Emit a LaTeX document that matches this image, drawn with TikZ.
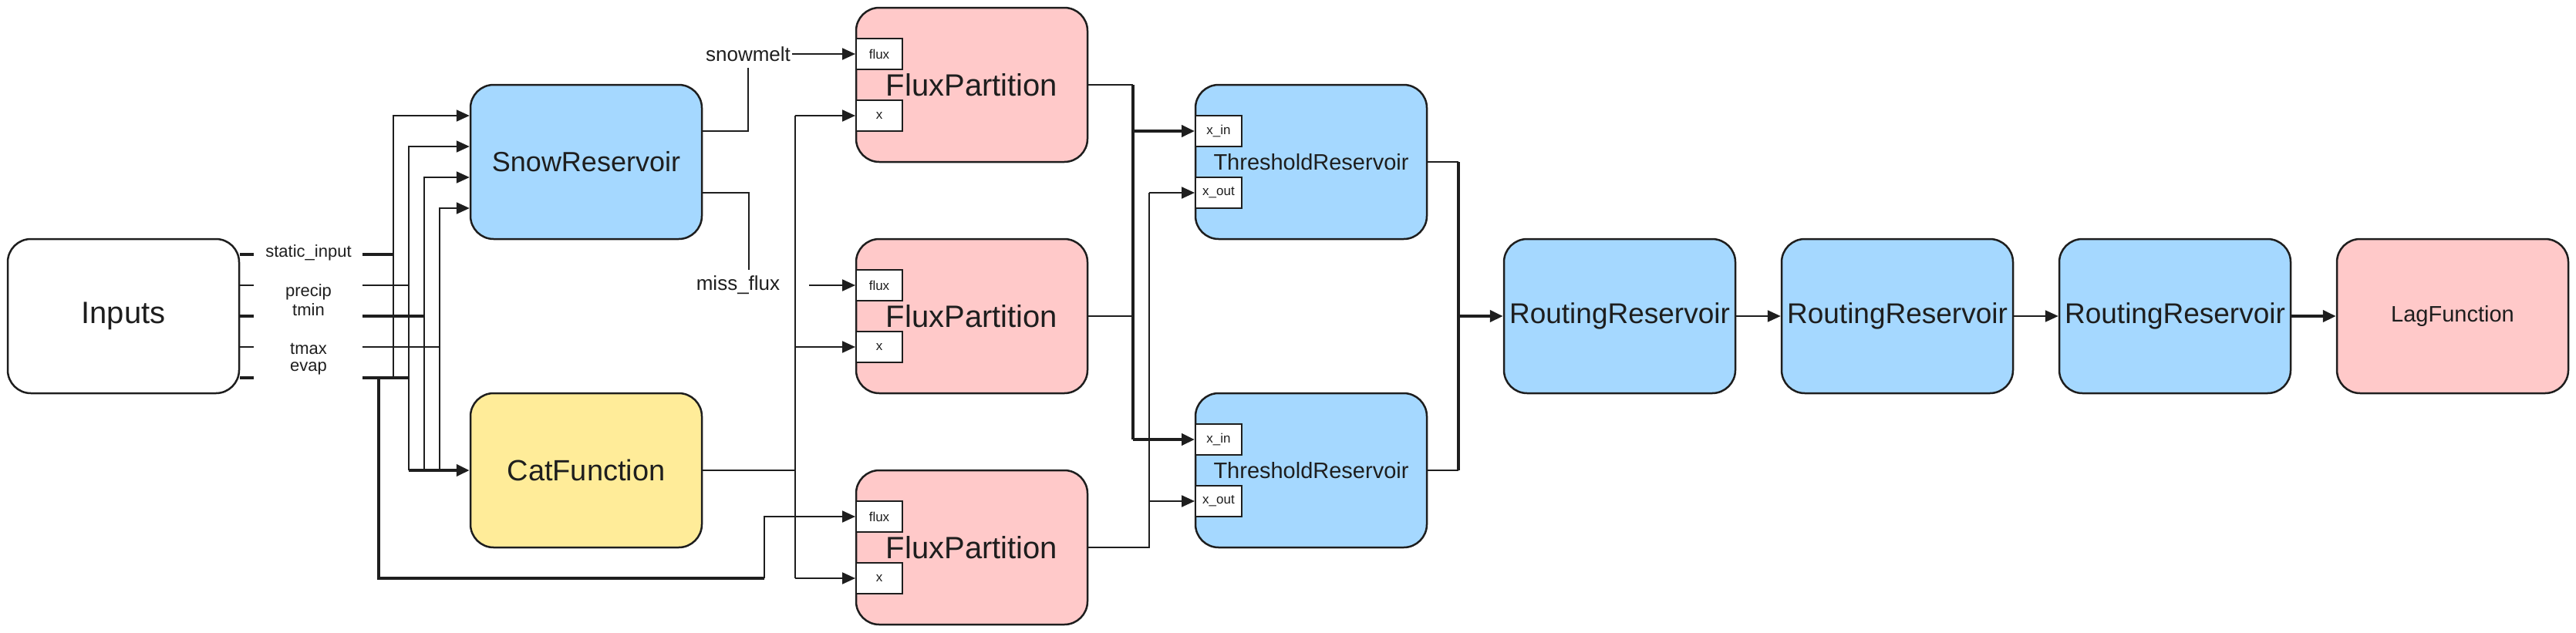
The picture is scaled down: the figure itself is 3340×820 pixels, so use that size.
\documentclass[tikz,border=0pt]{standalone}
\usepackage{fontspec}
\setmainfont{Liberation Sans}
\usetikzlibrary{arrows.meta}
\definecolor{ink}{HTML}{1E1E1E}
\definecolor{bblue}{HTML}{A5D8FF}
\definecolor{bpink}{HTML}{FFC9C9}
\definecolor{byel}{HTML}{FFEC99}
\newcommand{\fsz}[1]{\fontsize{#1}{#1}\selectfont}
\begin{document}
\begin{tikzpicture}[x=1pt,y=-1pt,
  box/.style={draw=ink, line width=2.5pt, rounded corners=30pt, minimum width=300pt, minimum height=200pt, inner sep=0pt, text=ink, font=\fsz{36}},
  midbox/.style={box, font=\fsz{29}},
  port/.style={draw=ink, fill=white, line width=2pt, minimum width=60pt, minimum height=40pt, inner sep=0pt, text=ink, font=\fsz{17}},
  lbl/.style={text=ink, inner sep=2pt, font=\fsz{22}},
  biglbl/.style={text=ink, inner sep=2pt, font=\fsz{26}},
  ln/.style={draw=ink, line width=2.2pt},
  thk/.style={draw=ink, line width=4.5pt},
  mthk/.style={draw=ink, line width=3.4pt},
  stub/.style={draw=ink, line width=4pt},
  arr/.style={-{Triangle[length=17pt,width=15pt]}}
]
\useasboundingbox (0,0) rectangle (3340,820);

% main boxes
\node[box, fill=white, font=\fsz{40}] (inp) at (160,410) {Inputs};
\node[box, fill=bblue] (snow) at (760,210) {SnowReservoir};
\node[box, fill=byel, font=\fsz{38}] (cat) at (760,610) {CatFunction};
\node[box, fill=bpink, font=\fsz{40}] (fp1) at (1260,110) {FluxPartition};
\node[box, fill=bpink, font=\fsz{40}] (fp2) at (1260,410) {FluxPartition};
\node[box, fill=bpink, font=\fsz{40}] (fp3) at (1260,710) {FluxPartition};
\node[midbox, fill=bblue] (t1) at (1700,210) {ThresholdReservoir};
\node[midbox, fill=bblue] (t2) at (1700,610) {ThresholdReservoir};
\node[box, fill=bblue, font=\fsz{37}] (r1) at (2100,410) {RoutingReservoir};
\node[box, fill=bblue, font=\fsz{37}] (r2) at (2460,410) {RoutingReservoir};
\node[box, fill=bblue, font=\fsz{37}] (r3) at (2820,410) {RoutingReservoir};
\node[midbox, fill=bpink] (lag) at (3180,410) {LagFunction};

% ports
\node[port] (fp1f) at (1140,70) {flux};
\node[port] (fp1x) at (1140,150) {x};
\node[port] (fp2f) at (1140,370) {flux};
\node[port] (fp2x) at (1140,450) {x};
\node[port] (fp3f) at (1140,670) {flux};
\node[port] (fp3x) at (1140,750) {x};
\node[port] (t1i) at (1580,170) {x\_in};
\node[port] (t1o) at (1580,250) {x\_out};
\node[port] (t2i) at (1580,570) {x\_in};
\node[port] (t2o) at (1580,650) {x\_out};

% input labels
\node[lbl] (lsi) at (400,328) {static\_input};
\node[lbl] (lpr) at (400,379) {precip};
\node[lbl] (ltn) at (400,402) {tmin};
\node[lbl] (ltx) at (400,452) {tmax};
\node[lbl] (lev) at (400,478) {evap};

% input stubs
\draw[stub] ([yshift=80pt]inp.east) -- ++(18,0);
\draw[ln] ([yshift=40pt]inp.east) -- ++(18,0);
\draw[stub] (inp.east) -- ++(18,0);
\draw[ln] ([yshift=-40pt]inp.east) -- ++(18,0);
\draw[stub] ([yshift=-80pt]inp.east) -- ++(18,0);

% input wires
\coordinate (osi) at (470,330);
\coordinate (opr) at (470,370);
\coordinate (otn) at (470,410);
\coordinate (otx) at (470,450);
\coordinate (oev) at (470,490);
\draw[stub] (osi) -- (510,330);
\draw[ln] (opr) -- (530,370);
\draw[stub] (otn) -- (550,410);
\draw[ln] (otx) -- (570,450);
\draw[stub] (oev) -- (530,490);
\draw[ln,arr] (510,490) |- ([yshift=60pt]snow.west);
\draw[ln,arr] (530,610) |- ([yshift=20pt]snow.west);
\draw[ln,arr] (550,610) |- ([yshift=-20pt]snow.west);
\draw[ln,arr] (570,610) |- ([yshift=-60pt]snow.west);
\draw[thk,arr] (530,610) -- (cat.west);
\draw[mthk] (491,490) |- (991,750);
\draw[ln,arr] (991,750) |- (fp3f.west);

% snow outputs
\node[biglbl] (smelt) at (970,70) {snowmelt};
\node[biglbl] (miss) at (957,370) {miss\_flux};
\draw[ln] ([yshift=40pt]snow.east) -| ([yshift=-6pt]smelt.south);
\draw[ln,arr] (smelt.east) -- (fp1f.west);
\draw[ln] ([yshift=-40pt]snow.east) -| (971,350);
\draw[ln,arr] (1049,370) -- (fp2f.west);

% cat outputs
\draw[ln] (cat.east) -| (1031,150);
\draw[ln] (1031,610) -- (1031,750);
\draw[ln,arr] (1031,150) -- (fp1x.west);
\draw[ln,arr] (1031,450) -- (fp2x.west);
\draw[ln,arr] (1031,750) -- (fp3x.west);

% flux partition outputs
\draw[ln] (fp1.east) -- (1469,110);
\draw[ln] (fp2.east) -- (1469,410);
\draw[thk] (1469,110) -- (1469,570);
\draw[thk,arr] (1469,170) -- (t1i.west);
\draw[thk,arr] (1469,570) -- (t2i.west);
\draw[ln] (fp3.east) -| (1490,250);
\draw[ln,arr] (1490,250) -- (t1o.west);
\draw[ln,arr] (1490,650) -- (t2o.west);

% threshold outputs
\draw[ln] (t1.east) -- (1891,210);
\draw[ln] (t2.east) -- (1891,610);
\draw[thk] (1891,210) -- (1891,610);
\draw[thk,arr] (1891,410) -- (r1.west);

% routing chain
\draw[ln,arr] (r1) -- (r2);
\draw[ln,arr] (r2) -- (r3);
\draw[thk,arr] (r3) -- (lag);
\end{tikzpicture}
\end{document}
